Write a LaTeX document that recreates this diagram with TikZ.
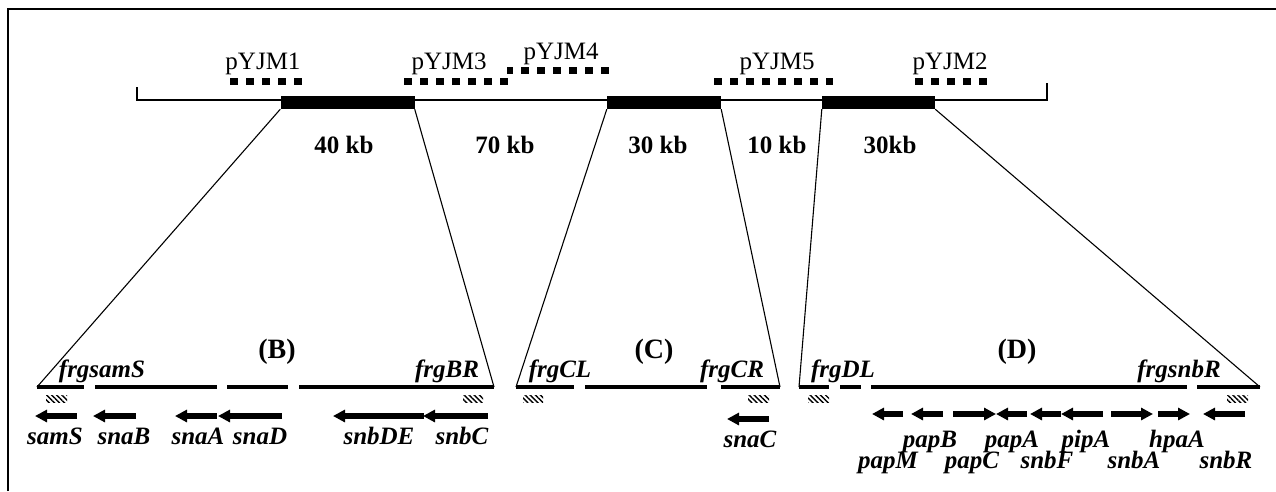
\documentclass[tikz,border=0pt]{standalone}
\usepackage{fontspec}
\setmainfont{Liberation Serif}
\usetikzlibrary{arrows.meta,patterns.meta}

\begin{document}
\begin{tikzpicture}[x=1pt,y=-1pt,
  frame/.style={line width=1.6pt},
  mainline/.style={line width=2pt},
  segbox/.style={fill=black,draw=none,inner sep=0pt,minimum height=13pt},
  zoomline/.style={line width=1.1pt},
  geneline/.style={line width=3.5pt},
  clonebar/.style={line width=7pt,dash pattern=on 8pt off 8pt},
  genearrow/.style={line width=6pt,-{Triangle[length=12pt,width=12pt]}},
  hatchbox/.style={pattern={Lines[angle=-45,distance=3.6pt,line width=1.4pt]}},
  clonelabel/.style={font=\fontsize{25}{30}\selectfont,anchor=base,inner sep=0pt},
  sizelabel/.style={font=\fontsize{25}{30}\selectfont\bfseries,anchor=base,inner sep=0pt},
  genelabel/.style={font=\fontsize{25}{30}\selectfont\bfseries\itshape,anchor=base,inner sep=0pt},
  regionlabel/.style={font=\fontsize{28}{32}\selectfont\bfseries,anchor=base,inner sep=0pt},
]
\useasboundingbox (0,0) rectangle (1276,491);

% frame
\draw[frame] (8,491) -- (8,9) -- (1276,9);

% chromosome line with end ticks
\coordinate (lend) at (137,100);
\coordinate (rend) at (1047,100);
\draw[mainline] (137,87) -- (lend) -- (rend) -- (1047,83);

% cloned segments
\node[segbox,minimum width=134pt] (bx1) at (347.5,102.5) {};
\node[segbox,minimum width=114pt] (bx2) at (664,102.5) {};
\node[segbox,minimum width=113pt] (bx3) at (878.5,102.5) {};

% clone coverage bars
\draw[clonebar] (230,81) -- (302,81);
\draw[clonebar] (404,81) -- (508,81);
\draw[clonebar,dash phase=2pt] (507,70) -- (609,70);
\draw[clonebar] (714,81) -- (833,81);
\draw[clonebar] (915,81) -- (987,81);

\node[clonelabel] (p1) at (263,69) {pYJM1};
\node[clonelabel] (p3) at (449,69) {pYJM3};
\node[clonelabel] (p4) at (561,59) {pYJM4};
\node[clonelabel] (p5) at (777,69) {pYJM5};
\node[clonelabel] (p2) at (950,69) {pYJM2};

\node[sizelabel] (s40) at (344,153) {40 kb};
\node[sizelabel] (s70) at (505,153) {70 kb};
\node[sizelabel] (s30a) at (658,153) {30 kb};
\node[sizelabel] (s10) at (777,153) {10 kb};
\node[sizelabel] (s30b) at (890,153) {30kb};

% ends of the expanded regions
\coordinate (bl) at (37,387);
\coordinate (br) at (494,387);
\coordinate (cl) at (516,387);
\coordinate (cr) at (780,387);
\coordinate (dl) at (799,387);
\coordinate (dr) at (1260,387);

\draw[zoomline] (bx1.south west) -- (bl);
\draw[zoomline] (bx1.south east) -- (br);
\draw[zoomline] (bx2.south west) -- (cl);
\draw[zoomline] (bx2.south east) -- (cr);
\draw[zoomline] (bx3.south west) -- (dl);
\draw[zoomline] (bx3.south east) -- (dr);

% region B
\draw[geneline] (bl) -- (84,387);
\draw[geneline] (95,387) -- (217,387);
\draw[geneline] (227,387) -- (288,387);
\draw[geneline] (299,387) -- (br);
\fill[hatchbox] (46,395) rectangle (67,402);
\fill[hatchbox] (463,395) rectangle (483,402);
\node[regionlabel] (rB) at (277,358) {(B)};
\node[genelabel] (fsamS) at (102,377) {frgsamS};
\node[genelabel] (fBR) at (447,377) {frgBR};
\draw[genearrow] (77,416) -- (35,416);
\draw[genearrow] (136,416) -- (93,416);
\draw[genearrow] (217,416) -- (175,416);
\draw[genearrow] (282,416) -- (218,416);
\draw[genearrow] (424,416) -- (333,416);
\draw[genearrow] (488,416) -- (423,416);
\node[genelabel] (gsamS) at (55,444) {samS};
\node[genelabel] (gsnaB) at (124,444) {snaB};
\node[genelabel] (gsnaA) at (198,444) {snaA};
\node[genelabel] (gsnaD) at (260,444) {snaD};
\node[genelabel] (gsnbDE) at (379,444) {snbDE};
\node[genelabel] (gsnbC) at (462,444) {snbC};

% region C
\draw[geneline] (cl) -- (574,387);
\draw[geneline] (585,387) -- (707,387);
\draw[geneline] (721,387) -- (cr);
\fill[hatchbox] (523,395) rectangle (543,402);
\fill[hatchbox] (748,395) rectangle (769,402);
\node[regionlabel] (rC) at (654,358) {(C)};
\node[genelabel] (fCL) at (560,377) {frgCL};
\node[genelabel] (fCR) at (732,377) {frgCR};
\draw[genearrow] (769,419) -- (727,419);
\node[genelabel] (gsnaC) at (750,447) {snaC};

% region D
\draw[geneline] (dl) -- (829,387);
\draw[geneline] (840,387) -- (861,387);
\draw[geneline] (871,387) -- (1187,387);
\draw[geneline] (1197,387) -- (dr);
\fill[hatchbox] (808,395) rectangle (829,402);
\fill[hatchbox] (1227,395) rectangle (1248,402);
\node[regionlabel] (rD) at (1017,358) {(D)};
\node[genelabel] (fDL) at (843,377) {frgDL};
\node[genelabel] (fsnbR) at (1179,377) {frgsnbR};
\draw[genearrow] (903,414) -- (872,414);
\draw[genearrow] (943,414) -- (911,414);
\draw[genearrow] (953,414) -- (996,414);
\draw[genearrow] (1027,414) -- (996,414);
\draw[genearrow] (1061,414) -- (1030,414);
\draw[genearrow] (1103,414) -- (1061,414);
\draw[genearrow] (1111,414) -- (1153,414);
\draw[genearrow] (1158,414) -- (1190,414);
\draw[genearrow] (1245,414) -- (1203,414);
\node[genelabel] (gpapB) at (930,447) {papB};
\node[genelabel] (gpapA) at (1012,447) {papA};
\node[genelabel] (gpipA) at (1086,447) {pipA};
\node[genelabel] (ghpaA) at (1177,447) {hpaA};
\node[genelabel] (gpapM) at (888,468) {papM};
\node[genelabel] (gpapC) at (972,468) {papC};
\node[genelabel] (gsnbF) at (1047,468) {snbF};
\node[genelabel] (gsnbA) at (1134,468) {snbA};
\node[genelabel] (gsnbR) at (1226,468) {snbR};
\end{tikzpicture}
\end{document}
